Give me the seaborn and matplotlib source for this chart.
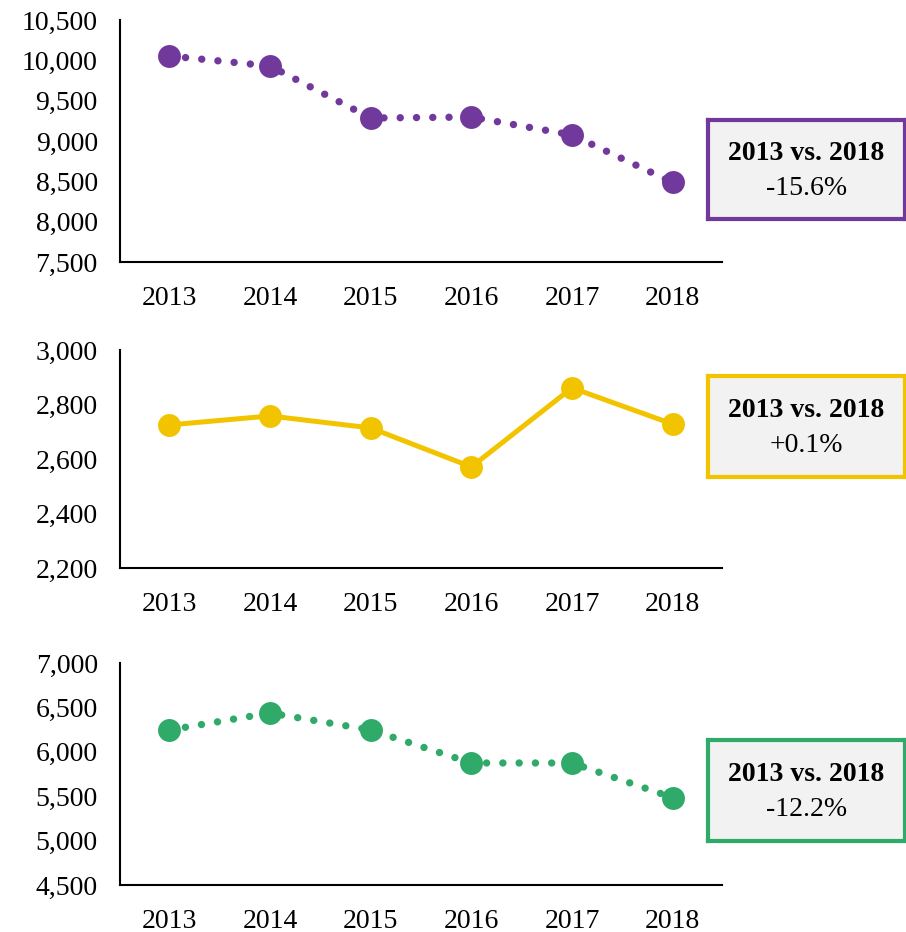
import numpy as np
import matplotlib
matplotlib.use("Agg")
import matplotlib.pyplot as plt
import seaborn as sns
from matplotlib.ticker import FuncFormatter

# data
years = [2013, 2014, 2015, 2016, 2017, 2018]
series_a = [10054, 9930, 9285, 9297, 9075, 8486]
series_b = [2725, 2758, 2714, 2571, 2861, 2728]
series_c = [6246, 6437, 6246, 5874, 5874, 5484]
changes = ["-15.6%", "+0.1%", "-12.2%"]
ylims = [(7500, 10500), (2200, 3000), (4500, 7000)]
ystep = [500, 200, 500]
colors = ["#71399b", "#f2c400", "#30aa68"]
dotted = [True, False, True]

sns.set_style("white")
plt.rcParams["font.family"] = ["Liberation Serif", "DejaVu Serif"]
plt.rcParams["text.color"] = "black"

fig = plt.figure(figsize=(9.06, 9.32), dpi=100)
W, H = 906, 932
# axes boxes in pixels (left, top, right, bottom)
boxes = [(120, 20, 722, 262), (120, 350, 722, 568), (120, 663, 722, 885)]
annot = [(708, 120, 905, 219), (708, 376, 905, 477), (708, 740, 905, 841)]

for i, vals in enumerate([series_a, series_b, series_c]):
    l, t, r, b = boxes[i]
    ax = fig.add_axes([l / W, 1 - b / H, (r - l) / W, (b - t) / H])
    sns.lineplot(x=years, y=vals, ax=ax, color=colors[i], marker="o",
                 markersize=16.5, markeredgewidth=0, linewidth=3.6 if not dotted[i] else 5.3)
    line = ax.lines[-1]
    if dotted[i]:
        line.set_linestyle((0, (0.01, 2.2)))
        line.set_dash_capstyle("round")
    ax.set_xlim(2013 - 0.49, 2018 + 0.49)
    ax.set_ylim(*ylims[i])
    ax.set_yticks(np.arange(ylims[i][0], ylims[i][1] + 1, ystep[i]))
    ax.set_xticks(years)
    ax.yaxis.set_major_formatter(FuncFormatter(lambda v, p: f"{int(v):,}"))
    ax.tick_params(axis="both", labelsize=20, length=0, colors="black")
    ax.tick_params(axis="y", pad=16)
    ax.tick_params(axis="x", pad=17)
    for s in ["top", "right"]:
        ax.spines[s].set_visible(False)
    for s in ["left", "bottom"]:
        ax.spines[s].set_color("black")
        ax.spines[s].set_linewidth(1.5)
    ax.set_xlabel("")
    ax.set_ylabel("")

    # annotation box
    al, at, ar, ab = annot[i]
    bax = fig.add_axes([al / W, 1 - ab / H, (ar - al) / W, (ab - at) / H])
    bax.set_xticks([])
    bax.set_yticks([])
    bax.set_facecolor("#f2f2f2")
    for s in bax.spines.values():
        s.set_color(colors[i])
        s.set_linewidth(3)
    bax.text(0.5, 0.66, "2013 vs. 2018", ha="center", va="center", color="black",
             fontsize=20, fontweight="bold", transform=bax.transAxes)
    bax.text(0.5, 0.31, changes[i], ha="center", va="center", color="black",
             fontsize=20, transform=bax.transAxes)

fig.savefig("out.png", dpi=100)
